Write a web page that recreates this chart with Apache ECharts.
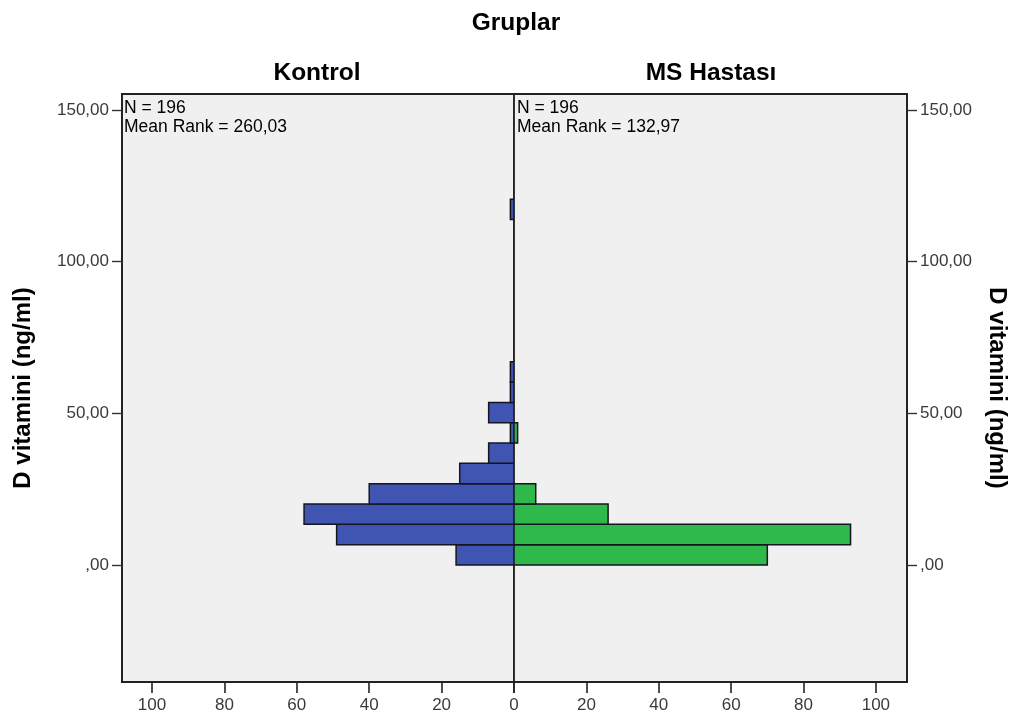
<!DOCTYPE html>
<html>
<head>
<meta charset="utf-8">
<script src="https://cdn.jsdelivr.net/npm/echarts@6/dist/echarts.min.js"></script>
<style>
html,body{margin:0;padding:0;background:#fff;}
#c{width:1019px;height:719px;}
</style>
</head>
<body>
<div id="c"></div>
<script>
// Histogram bins of D vitamini (ng/ml)
const binEdges = [0, 6.7, 13.4, 20.1, 26.8, 33.5, 40.2, 46.9, 53.6, 60.3, 67.0, 73.7, 80.4, 87.1, 93.8, 100.5, 107.2, 113.9, 120.6];
const kontrolCounts = [16, 49, 58, 40, 15, 7, 1, 7, 1, 1, 0, 0, 0, 0, 0, 0, 0, 1];
const msCounts      = [70, 93, 26, 6, 0, 0, 1, 0, 0, 0, 0, 0, 0, 0, 0, 0, 0, 0];
const groupNames = ['Kontrol', 'MS Hastası'];
const groupStats = ['N = 196\nMean Rank = 260,03', 'N = 196\nMean Rank = 132,97'];
const yTicks = [0, 50, 100, 150];
const xTicks = [0, 20, 40, 60, 80, 100];
const superTitle = 'Gruplar';
const yName = 'D vitamini (ng/ml)';

function binData(counts) {
  const out = [];
  counts.forEach((c, i) => { if (c > 0) out.push([binEdges[i], binEdges[i + 1], c]); });
  return out;
}
function fmtY(v) {
  if (v === 0) return ',00';
  return v.toFixed(2).replace('.', ',');
}
const FONT = 'Liberation Sans, Arial, sans-serif';

function renderBar(color) {
  return function (params, api) {
    const p0 = api.coord([0, api.value(0)]);
    const p1 = api.coord([api.value(2), api.value(1)]);
    return {
      type: 'rect',
      shape: {
        x: Math.min(p0[0], p1[0]), y: Math.min(p0[1], p1[1]),
        width: Math.abs(p1[0] - p0[0]), height: Math.abs(p1[1] - p0[1])
      },
      style: { fill: color, stroke: '#151522', lineWidth: 1.5 }
    };
  };
}

const chart = echarts.init(document.getElementById('c'));
const yCommon = {
  type: 'value', min: -38.6, max: 155.3,
  axisLine: { show: true, onZero: false, lineStyle: { color: '#222', width: 1.8 } },
  splitLine: { show: false },
  axisTick: { show: true, inside: false, length: 10, customValues: yTicks, lineStyle: { color: '#333', width: 1.4 } },
  axisLabel: { customValues: yTicks, formatter: fmtY, fontSize: 17, color: '#3a3a3a', fontFamily: FONT, margin: 13 },
  name: yName, nameLocation: 'middle',
  nameTextStyle: { fontSize: 24, fontWeight: 'bold', color: '#000', fontFamily: FONT }
};
const xCommon = {
  type: 'value', min: 0,
  axisLine: { show: true, onZero: false, lineStyle: { color: '#222', width: 1.8 } },
  splitLine: { show: false },
  axisTick: { show: true, inside: false, length: 11, customValues: xTicks, lineStyle: { color: '#222', width: 1.6 } },
  axisLabel: { fontSize: 17, color: '#3a3a3a', fontFamily: FONT, margin: 15 }
};

chart.setOption({
  animation: false,
  backgroundColor: '#fff',
  title: [
    { text: superTitle, left: 516, top: 11, textAlign: 'center', padding: 0,
      textStyle: { fontSize: 24.5, fontWeight: 'bold', color: '#000', fontFamily: FONT } },
    { text: groupNames[0], left: 317, top: 61, textAlign: 'center', padding: 0,
      textStyle: { fontSize: 24.5, fontWeight: 'bold', color: '#000', fontFamily: FONT } },
    { text: groupNames[1], left: 711, top: 61, textAlign: 'center', padding: 0,
      textStyle: { fontSize: 24.5, fontWeight: 'bold', color: '#000', fontFamily: FONT } }
  ],
  grid: [
    { left: 122, width: 392, top: 94, height: 588, show: true, backgroundColor: '#f0f0f0', borderColor: '#222', borderWidth: 1.8 },
    { left: 514, width: 393, top: 94, height: 588, show: true, backgroundColor: '#f0f0f0', borderColor: '#222', borderWidth: 1.8 }
  ],
  xAxis: [
    Object.assign({}, xCommon, { gridIndex: 0, max: 108.3, inverse: true,
      axisLabel: Object.assign({}, xCommon.axisLabel, { customValues: [20, 40, 60, 80, 100] }) }),
    Object.assign({}, xCommon, { gridIndex: 1, max: 108.6,
      axisLabel: Object.assign({}, xCommon.axisLabel, { customValues: xTicks }) })
  ],
  yAxis: [
    Object.assign({}, yCommon, { gridIndex: 0, position: 'left', nameGap: 87, nameRotate: 90 }),
    Object.assign({}, yCommon, { gridIndex: 1, position: 'right', nameGap: 78, nameRotate: -90 })
  ],
  graphic: [
    { type: 'text', left: 124, top: 99, z: 100,
      style: { text: groupStats[0], font: '17.5px ' + FONT, fill: '#000', lineHeight: 18.5 } },
    { type: 'text', left: 517, top: 99, z: 100,
      style: { text: groupStats[1], font: '17.5px ' + FONT, fill: '#000', lineHeight: 18.5 } }
  ],
  series: [
    { type: 'custom', name: groupNames[0], xAxisIndex: 0, yAxisIndex: 0, clip: true,
      data: binData(kontrolCounts), renderItem: renderBar('#3f55b1'), encode: { x: 2, y: [0, 1] } },
    { type: 'custom', name: groupNames[1], xAxisIndex: 1, yAxisIndex: 1, clip: true,
      data: binData(msCounts), renderItem: renderBar('#2fb94b'), encode: { x: 2, y: [0, 1] } }
  ]
});
</script>
</body>
</html>
